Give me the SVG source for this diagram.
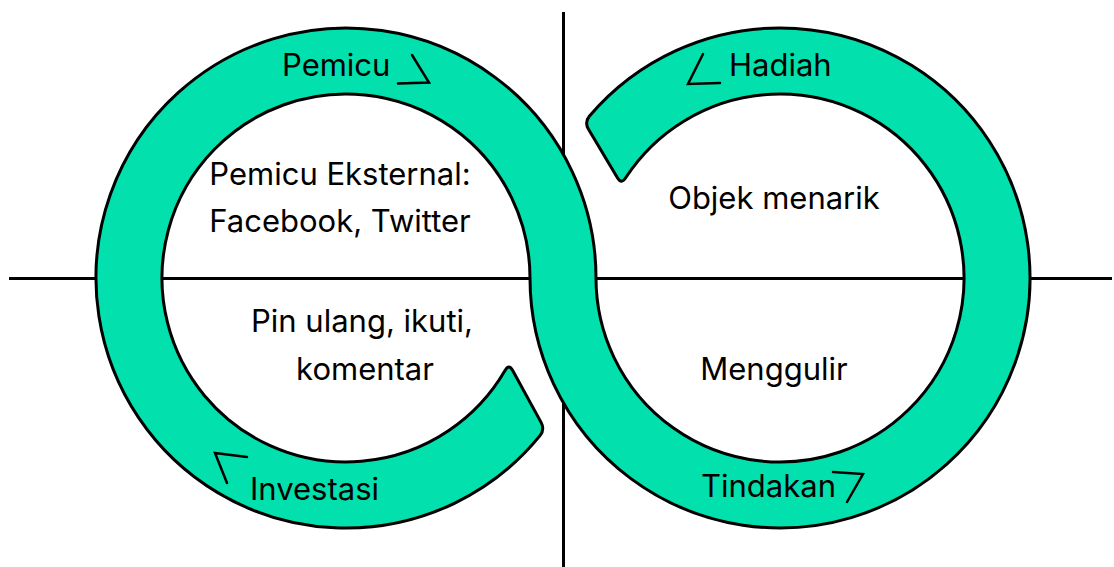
<svg xmlns="http://www.w3.org/2000/svg" width="1114" height="567" viewBox="0 0 1114 567">
<style>
.axis{stroke:#000;stroke-width:3;fill:none}
.band{fill:#02E0AD;stroke:#000;stroke-width:3;stroke-linejoin:round}
.lbl{font-family:Inter,"Liberation Sans",sans-serif;font-size:31px;fill:#000}
.mid{text-anchor:middle}
.arr{fill:none;stroke:#000;stroke-width:2.5;stroke-linecap:round;stroke-linejoin:miter}
</style>
<g id="axes">
<line class="axis" x1="9" y1="278.5" x2="1112" y2="278.5"/>
<line class="axis" x1="563.5" y1="12" x2="563.5" y2="567"/>
</g>
<g id="loop">
<path class="band" d="M541.1 422.4 Q544.9 429.4 540 435.7 A250 250 0 1 1 596 278 A184 184 0 1 0 625.7 177.8 Q621.5 184.6 617.4 177.7 L588.5 129.3 Q584.4 122.4 589.3 116.3 A250 250 0 1 1 530 278 A184 184 0 1 0 505 370.6 Q508.9 363.5 512.7 370.5 Z"/>
</g>
<g id="pemicu">
<text class="lbl" x="282" y="76">Pemicu</text>
<polyline class="arr" points="412,55 429,82.5 398,83.5"/>
</g>
<g id="hadiah">
<text class="lbl" x="729" y="76">Hadiah</text>
<polyline class="arr" points="703,54 688,84 720,83"/>
</g>
<g id="investasi">
<text class="lbl" x="250" y="500">Investasi</text>
<polyline class="arr" points="247,457 215,453 227,483"/>
</g>
<g id="tindakan">
<text class="lbl" x="701" y="497">Tindakan</text>
<polyline class="arr" points="833,472 863,474 847,502"/>
</g>
<g id="pemicu-eksternal">
<text class="lbl mid" x="340" y="185">Pemicu Eksternal:</text>
<text class="lbl mid" x="340" y="232">Facebook, Twitter</text>
</g>
<g id="objek-menarik">
<text class="lbl mid" x="774" y="209">Objek menarik</text>
</g>
<g id="pin-ulang">
<text class="lbl mid" x="362" y="332">Pin ulang, ikuti,</text>
<text class="lbl mid" x="365" y="380">komentar</text>
</g>
<g id="menggulir">
<text class="lbl mid" x="774" y="380">Menggulir</text>
</g>
</svg>
